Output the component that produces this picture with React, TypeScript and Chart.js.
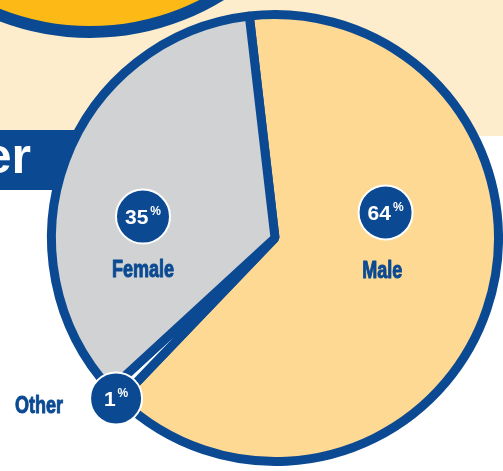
import React, { useEffect, useRef } from "react";
import { Chart, registerables } from "chart.js";

Chart.register(...registerables);

const categories = ["Male", "Other", "Female"];
const values = [64, 1, 35];
const percentLabels = ["64", "1", "35"];

const BLUE = "#0B4A92";
const sliceColors = ["#FDD994", "#FFFFFF", "#D1D2D4"];

// label placement relative to pie centre, as fractions of outer radius
const circleOffsets = [
  [0.485, -0.112],
  [-0.697, 0.704],
  [-0.579, -0.094],
];
const nameOffsets = [
  [0.47, 0.145],
  [-1.035, 0.737],
  [-0.579, 0.14],
];
const circleRadii = [27, 26, 27];

const SANS = '"Liberation Sans", Arial, sans-serif';

const backgroundPlugin = {
  id: "bgDecor",
  beforeDraw(chart: any) {
    const ctx = chart.ctx;
    ctx.save();
    ctx.fillStyle = "#FFFFFF";
    ctx.fillRect(0, 0, chart.width, chart.height);
    // cream panel
    ctx.fillStyle = "#FEEDCC";
    ctx.fillRect(0, 0, chart.width, 136);
    // blue banner
    ctx.fillStyle = BLUE;
    ctx.fillRect(0, 130, 160, 60);
    ctx.fillStyle = "#FFFFFF";
    ctx.font = `bold 50px ${SANS}`;
    ctx.textAlign = "right";
    ctx.textBaseline = "alphabetic";
    ctx.fillText("er", 31, 173);
    // yellow circle
    ctx.beginPath();
    ctx.arc(90, -217, 249, 0, Math.PI * 2);
    ctx.fillStyle = "#FDB915";
    ctx.fill();
    ctx.lineWidth = 12;
    ctx.strokeStyle = BLUE;
    ctx.stroke();
    ctx.restore();
  },
};

const labelPlugin = {
  id: "sliceLabels",
  afterDatasetsDraw(chart: any) {
    const ctx = chart.ctx;
    const meta = chart.getDatasetMeta(0);
    ctx.save();
    meta.data.forEach((arc: any, i: number) => {
      const R = arc.outerRadius + 4.5;
      const cx = arc.x + circleOffsets[i][0] * R;
      const cy = arc.y + circleOffsets[i][1] * R;
      ctx.beginPath();
      ctx.arc(cx, cy, circleRadii[i], 0, Math.PI * 2);
      ctx.fillStyle = BLUE;
      ctx.fill();
      ctx.lineWidth = 2;
      ctx.strokeStyle = "#FFFFFF";
      ctx.stroke();

      // number + superscript %
      const num = percentLabels[i];
      ctx.font = `bold 21px ${SANS}`;
      const nw = ctx.measureText(num).width;
      ctx.font = `bold 12px ${SANS}`;
      const pw = ctx.measureText("%").width;
      const gap = 2;
      const total = nw + gap + pw;
      const x0 = cx - total / 2;
      ctx.fillStyle = "#FFFFFF";
      ctx.textAlign = "left";
      ctx.textBaseline = "alphabetic";
      ctx.font = `bold 21px ${SANS}`;
      ctx.fillText(num, x0, cy + 7.5);
      ctx.font = `bold 12px ${SANS}`;
      ctx.fillText("%", x0 + nw + gap, cy - 1.5);

      // category name (condensed, heavy)
      const nx = arc.x + nameOffsets[i][0] * R;
      const ny = arc.y + nameOffsets[i][1] * R;
      ctx.save();
      ctx.translate(nx, ny);
      ctx.scale(0.75, 1);
      ctx.font = `bold 24px ${SANS}`;
      ctx.fillStyle = BLUE;
      ctx.strokeStyle = BLUE;
      ctx.lineWidth = 1;
      ctx.lineJoin = "round";
      ctx.textAlign = "center";
      ctx.textBaseline = "middle";
      ctx.fillText(categories[i], 0, 0);
      ctx.strokeText(categories[i], 0, 0);
      ctx.restore();
    });
    ctx.restore();
  },
};

export default function App() {
  const canvasRef = useRef<HTMLCanvasElement | null>(null);

  useEffect(() => {
    const canvas = canvasRef.current;
    if (!canvas) return;
    const chart = new Chart(canvas, {
      type: "pie",
      data: {
        labels: categories,
        datasets: [
          {
            data: values,
            backgroundColor: sliceColors,
            borderColor: BLUE,
            borderWidth: 9,
            radius: 223.5,
          } as any,
        ],
      },
      options: {
        responsive: false,
        animation: false,
        rotation: -6.6,
        layout: { padding: { left: 47, top: 5, right: 0, bottom: 0 } },
        plugins: {
          legend: { display: false },
          tooltip: { enabled: false },
        },
      },
      plugins: [backgroundPlugin, labelPlugin],
    });
    return () => chart.destroy();
  }, []);

  return (
    <div style={{ position: "fixed", left: 0, top: 0, width: 503, height: 471, overflow: "hidden" }}>
      <canvas ref={canvasRef} width={503} height={471} style={{ display: "block" }} />
    </div>
  );
}
